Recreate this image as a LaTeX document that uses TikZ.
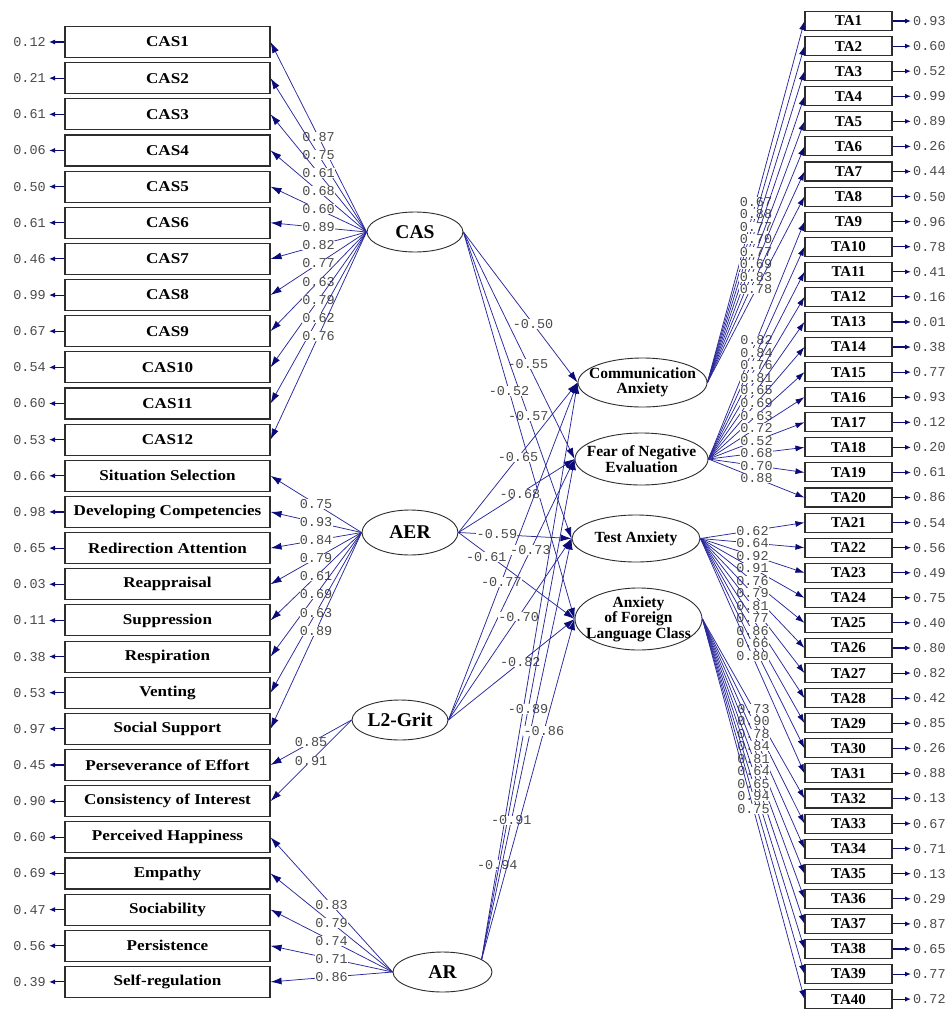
\documentclass[tikz,border=0pt]{standalone}
\usepackage{fontspec}
\setmainfont{Liberation Serif}
\newfontfamily\numfont{Liberation Mono}
\newfontfamily\boxfont[FakeStretch=1.14]{Liberation Serif}
\usetikzlibrary{shapes.geometric,arrows.meta}
\definecolor{pathblue}{RGB}{40,40,155}
\definecolor{headblue}{RGB}{10,10,120}
\definecolor{numgray}{RGB}{75,75,75}
\definecolor{boxgray}{RGB}{45,45,45}
\begin{document}
\begin{tikzpicture}[x=1pt,y=-1pt,
  obsL/.style={draw=boxgray, line width=1.1pt, minimum width=205pt, minimum height=31pt, inner sep=0pt, font=\boxfont\bfseries\fontsize{15}{15}\selectfont},
  obsR/.style={draw=boxgray, line width=1.1pt, minimum width=87pt, minimum height=19pt, inner sep=0pt, font=\bfseries\fontsize{15}{15}\selectfont},
  latA/.style={ellipse, draw=boxgray, line width=0.9pt, inner sep=0pt, minimum width=96pt, minimum height=40pt, font=\bfseries\fontsize{19.5}{19.5}\selectfont},
  latB/.style={ellipse, draw=boxgray, line width=0.9pt, inner sep=0pt},
  lattxt/.style={align=center, inner sep=0pt, font=\bfseries\fontsize{15.5}{15.5}\selectfont},
  ldg/.style={draw=pathblue, line width=0.75pt, -{Latex[length=11pt,width=7pt,color=headblue]}},
  ldgR/.style={draw=pathblue, line width=0.75pt, -{Latex[length=9pt,width=6pt,color=headblue]}},
  errarr/.style={draw=headblue, line width=1.1pt, -{Latex[length=6pt,width=5pt]}},
  coef/.style={font=\numfont\fontsize{13.5}{13.5}\selectfont, text=numgray, fill=white, inner sep=0.3pt},
  errnum/.style={font=\numfont\fontsize{13.5}{13.5}\selectfont, text=numgray, inner sep=0pt}
]
\useasboundingbox (0,0) rectangle (947,1010);
\fill[white] (0,0) rectangle (947,1010);

% ---------- left observed variables ----------
\foreach \t/\e [count=\i] in {CAS1/0.12, CAS2/0.21, CAS3/0.61, CAS4/0.06, CAS5/0.50, CAS6/0.61, CAS7/0.46, CAS8/0.99, CAS9/0.67, CAS10/0.54, CAS11/0.60, CAS12/0.53, Situation Selection/0.66, Developing Competencies/0.98, Redirection Attention/0.65, Reappraisal/0.03, Suppression/0.11, Respiration/0.38, Venting/0.53, Social Support/0.97, Perseverance of Effort/0.45, Consistency of Interest/0.90, Perceived Happiness/0.60, Empathy/0.69, Sociability/0.47, Persistence/0.56, Self-regulation/0.39}{
  \node[obsL] (L\i) at (167.5,{42+(\i-1)*36.15}) {\t};
  \coordinate (eL\i) at (49,{42+(\i-1)*36.15});
  \node[errnum, anchor=east] (nL\i) at (46,{42+(\i-1)*36.15}) {\e};
  \draw[errarr] (L\i.west) -- (eL\i);
}

% ---------- right observed variables ----------
\foreach \e [count=\k] in {0.93,0.60,0.52,0.99,0.89,0.26,0.44,0.50,0.96,0.78,0.41,0.16,0.01,0.38,0.77,0.93,0.12,0.20,0.61,0.86,0.54,0.56,0.49,0.75,0.40,0.80,0.82,0.42,0.85,0.26,0.88,0.13,0.67,0.71,0.13,0.29,0.87,0.65,0.77,0.72}{
  \node[obsR] (R\k) at (848.5,{21+(\k-1)*25.08}) {TA\k};
  \coordinate (eR\k) at (911,{21+(\k-1)*25.08});
  \node[errnum, anchor=west] (nR\k) at (913,{21+(\k-1)*25.08}) {\e};
  \draw[errarr] (R\k.east) -- (eR\k);
}

% ---------- latent variables ----------
\node[latA] (CAS) at (415,232) {CAS};
\node[latA, minimum height=45pt] (AER) at (410,532.5) {AER};
\node[latA] (L2G) at (400,720) {L2-Grit};
\node[latA, minimum width=99pt] (AR) at (442.5,972) {AR};

\node[latB, minimum width=129pt, minimum height=49pt] (CA) at (642.5,382.5) {};
\node[lattxt] (CAt) at (CA) {Communication\\Anxiety};
\node[latB, minimum width=133pt, minimum height=52pt] (FNE) at (641.5,459) {};
\node[lattxt] (FNEt) at (FNE) {Fear of Negative\\Evaluation};
\node[latB, minimum width=128pt, minimum height=47pt] (TAX) at (636,538.5) {};
\node[lattxt] (TAXt) at (TAX) {Test Anxiety};
\node[latB, minimum width=127pt, minimum height=62pt] (AFL) at (638.5,619) {};
\node[lattxt] (AFLt) at (AFL) {Anxiety\\of Foreign\\Language Class};

% ---------- loadings, left ----------
\foreach \v [count=\i] in {0.87,0.75,0.61,0.68,0.60,0.89,0.82,0.77,0.63,0.79,0.62,0.76}
  \draw[ldg] (CAS.west) -- (L\i.east) node[coef,pos=.5] {\v};
\foreach \v [count=\i from 13] in {0.75,0.93,0.84,0.79,0.61,0.69,0.63,0.89}
  \draw[ldg] (AER.west) -- (L\i.east) node[coef,pos=.5] {\v};
\foreach \v [count=\i from 21] in {0.85,0.91}
  \draw[ldg] (L2G.west) -- (L\i.east) node[coef,pos=.5] {\v};
\foreach \v [count=\i from 23] in {0.83,0.79,0.74,0.71,0.86}
  \draw[ldg] (AR.west) -- (L\i.east) node[coef,pos=.5] {\v};

% ---------- loadings, right ----------
\foreach \v [count=\k] in {0.67,0.88,0.77,0.70,0.77,0.69,0.83,0.78}
  \draw[ldgR] (CA.east) -- (R\k.west) node[coef,pos=.5] {\v};
\foreach \v [count=\k from 9] in {0.82,0.84,0.76,0.81,0.65,0.69,0.63,0.72,0.52,0.68,0.70,0.88}
  \draw[ldgR] (FNE.east) -- (R\k.west) node[coef,pos=.5] {\v};
\foreach \v [count=\k from 21] in {0.62,0.64,0.92,0.91,0.76,0.79,0.81,0.77,0.86,0.66,0.80}
  \draw[ldgR] (TAX.east) -- (R\k.west) node[coef,pos=.5] {\v};
\foreach \v [count=\k from 32] in {0.73,0.90,0.78,0.84,0.81,0.64,0.65,0.94,0.75}
  \draw[ldgR] (AFL.east) -- (R\k.west) node[coef,pos=.5] {\v};

% ---------- structural paths ----------
\draw[ldg] (CAS.east) -- (CA.west)  node[coef,pos=.61] {-0.50};
\draw[ldg] (CAS.east) -- (FNE.west) node[coef,pos=.58] {-0.55};
\draw[ldg] (CAS.east) -- (TAX.west) node[coef,pos=.60] {-0.57};
\draw[ldg] (CAS.east) -- (AFL.west) node[coef,pos=.41] {-0.52};

\draw[ldg] (AER.east) -- (CA.west)  node[coef,pos=.50] {-0.65};
\draw[ldg] (AER.east) -- (FNE.west) node[coef,pos=.53] {-0.68};
\draw[ldg] (AER.east) -- (TAX.west) node[coef,pos=.34] {-0.59};
\draw[ldg] (AER.east) -- (AFL.west) node[coef,pos=.24,yshift=-4pt] {-0.61};

\draw[ldg] (L2G.east) -- (CA.west)  node[coef,pos=.41] {-0.77};
\draw[ldg] (L2G.east) -- (FNE.west) node[coef,pos=.65] {-0.73};
\draw[ldg] (L2G.east) -- (TAX.west) node[coef,pos=.57] {-0.70};
\draw[ldg] (L2G.east) -- (AFL.west) node[coef,pos=.57] {-0.82};

\draw[ldg] (AR.18) -- (CA.west)  node[coef,pos=.163] {-0.94};
\draw[ldg] (AR.18) -- (FNE.west) node[coef,pos=.50] {-0.89};
\draw[ldg] (AR.18) -- (TAX.west) node[coef,pos=.33] {-0.91};
\draw[ldg] (AR.18) -- (AFL.west) node[coef,pos=.67] {-0.86};
\end{tikzpicture}
\end{document}
